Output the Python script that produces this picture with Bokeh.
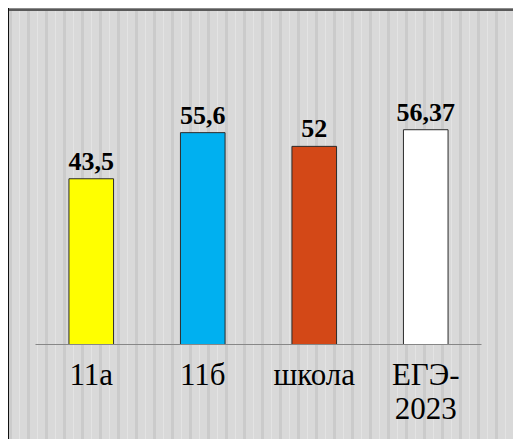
from bokeh.plotting import figure
from bokeh.models import ColumnDataSource, FactorRange, Range1d, LabelSet, CategoricalAxis, CustomJSTickFormatter
from bokeh.embed import file_html
from bokeh.resources import INLINE

categories = ["11а", "11б", "школа", "ЕГЭ-2023"]
scores = [43.5, 55.6, 52.0, 56.37]
score_labels = ["43,5", "55,6", "52", "56,37"]
colors = ["#FFFF00", "#00B0F0", "#D34817", "#FFFFFF"]
tick_line1 = ["11а", "11б", "школа", "ЕГЭ-"]
tick_line2 = ["", "", "", "2023"]

src = ColumnDataSource(dict(cat=categories, score=scores, lbl=score_labels, color=colors))

p = figure(width=513, height=439,
           x_range=FactorRange(*categories, range_padding=0),
           y_range=Range1d(0, 87.66),
           output_backend="svg", toolbar_location=None,
           min_border_left=35, min_border_right=32, min_border_top=10, min_border_bottom=95)

p.background_fill_alpha = 0
p.border_fill_alpha = 0
p.outline_line_color = None
p.styles = {
    "background": ", ".join([
        "linear-gradient(to right, #ffffff 0px, #ffffff 8px, transparent 8px)",
        "linear-gradient(to bottom, #ffffff 0px, #ffffff 8px, transparent 8px)",
        "linear-gradient(to right, transparent 8px, #111111 8px, #111111 9px, transparent 9px)",
        "linear-gradient(to bottom, #bdbdbd 8px, #595959 9px, #595959 11px, transparent 11px)",
        "repeating-linear-gradient(to right, #cbcbcb 0px, #cbcbcb 3px, #d9d9d9 3px, #d9d9d9 10px, #e3e3e3 10px, #e3e3e3 11px, #d9d9d9 11px, #d9d9d9 18px)",
    ]),
    "background-position": "0 0, 0 0, 0 0, 0 0, 9px 0",
}

p.vbar(x="cat", top="score", width=0.4, source=src, fill_color="color",
       line_color="#2b2b2b", line_width=1)

labels = LabelSet(x="cat", y="score", text="lbl", source=src, y_offset=9,
                  text_align="center", text_baseline="alphabetic",
                  text_font="Liberation Serif", text_font_style="bold",
                  text_font_size="26px", text_color="#000000")
p.add_layout(labels)

p.yaxis.visible = False
p.xgrid.visible = False
p.ygrid.visible = False


def style_axis(ax, standoff, texts, line_color):
    ax.axis_line_color = line_color
    ax.axis_line_width = 1
    ax.major_tick_line_color = None
    ax.minor_tick_line_color = None
    ax.major_tick_out = 0
    ax.major_tick_in = 0
    ax.major_label_standoff = standoff
    ax.major_label_text_font = "Liberation Serif"
    ax.major_label_text_font_size = "31px"
    ax.major_label_text_color = "#000000"
    ax.formatter = CustomJSTickFormatter(
        args=dict(factors=categories, texts=texts),
        code="const i = factors.indexOf(tick); return i >= 0 ? texts[i] : tick;")


style_axis(p.xaxis[0], 12, tick_line1, "#878787")
ax2 = CategoricalAxis()
style_axis(ax2, 3, tick_line2, None)
p.add_layout(ax2, "below")

open("out.html", "w").write(file_html(p, INLINE))
